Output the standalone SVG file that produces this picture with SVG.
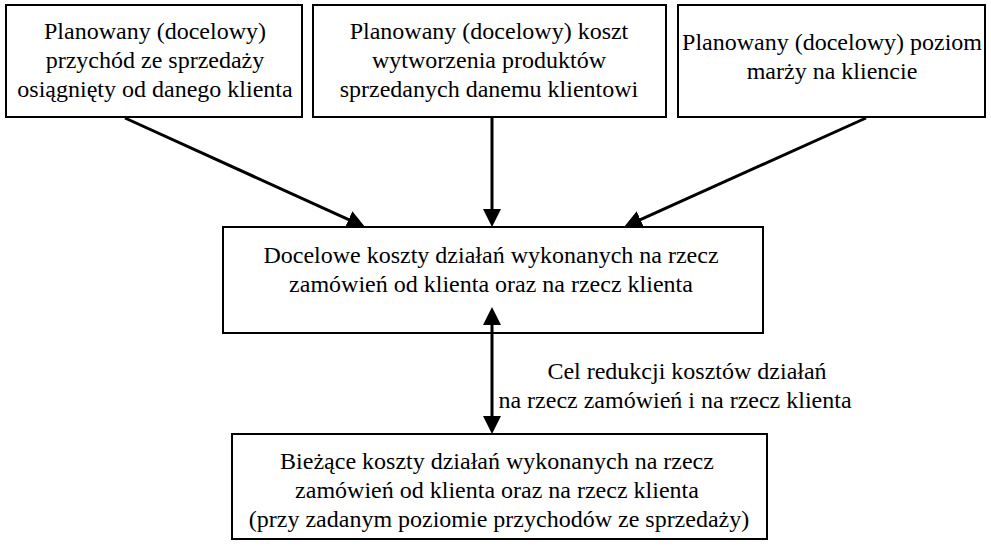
<svg xmlns="http://www.w3.org/2000/svg" width="991" height="548" viewBox="0 0 991 548">
<style>
.box{fill:#fff;stroke:#000;stroke-width:2}
.t{font-family:"Liberation Serif","Times New Roman",serif;font-size:24px;fill:#000;text-anchor:middle}
.c{stroke:#000;stroke-width:3;fill:none}
</style>
<defs>
<marker id="ah" viewBox="0 0 10 10" refX="1" refY="5" markerWidth="6" markerHeight="6" markerUnits="strokeWidth" orient="auto-start-reverse">
<path d="M0,0 L10,5 L0,10 z" fill="#000"/>
</marker>
</defs>
<rect width="991" height="548" fill="#fff"/>
<g id="n1"><rect class="box" x="6" y="5" width="296" height="112"/>
<text class="t" x="155" y="39">Planowany (docelowy)</text>
<text class="t" x="155" y="68">przychód ze sprzedaży</text>
<text class="t" x="155" y="97">osiągnięty od danego klienta</text></g>
<g id="n2"><rect class="box" x="313" y="5" width="353" height="112"/>
<text class="t" x="489" y="39">Planowany (docelowy) koszt</text>
<text class="t" x="489" y="68">wytworzenia produktów</text>
<text class="t" x="489" y="97">sprzedanych danemu klientowi</text></g>
<g id="n3"><rect class="box" x="678" y="5" width="307" height="112"/>
<text class="t" x="832" y="50">Planowany (docelowy) poziom</text>
<text class="t" x="832" y="79">marży na kliencie</text></g>
<g id="n4"><rect class="box" x="223" y="227" width="540" height="106"/>
<text class="t" x="491" y="263">Docelowe koszty działań wykonanych na rzecz</text>
<text class="t" x="491" y="292">zamówień od klienta oraz na rzecz klienta</text></g>
<g id="n5"><rect class="box" x="232" y="434" width="535" height="105"/>
<text class="t" x="497" y="469">Bieżące koszty działań wykonanych na rzecz</text>
<text class="t" x="497" y="498">zamówień od klienta oraz na rzecz klienta</text>
<text class="t" x="499" y="527">(przy zadanym poziomie przychodów ze sprzedaży)</text></g>
<g id="connectors">
<line class="c" x1="125" y1="118" x2="350.3" y2="220.3" marker-end="url(#ah)"/>
<line class="c" x1="492" y1="118" x2="492" y2="210.8" marker-end="url(#ah)"/>
<line class="c" x1="866" y1="118" x2="638.8" y2="220.3" marker-end="url(#ah)"/>
<line class="c" x1="492" y1="323.2" x2="492" y2="417.8" marker-start="url(#ah)" marker-end="url(#ah)"/>
<text class="t" x="687" y="379">Cel redukcji kosztów działań</text>
<text class="t" x="675" y="408">na rzecz zamówień i na rzecz klienta</text>
</g>
</svg>
